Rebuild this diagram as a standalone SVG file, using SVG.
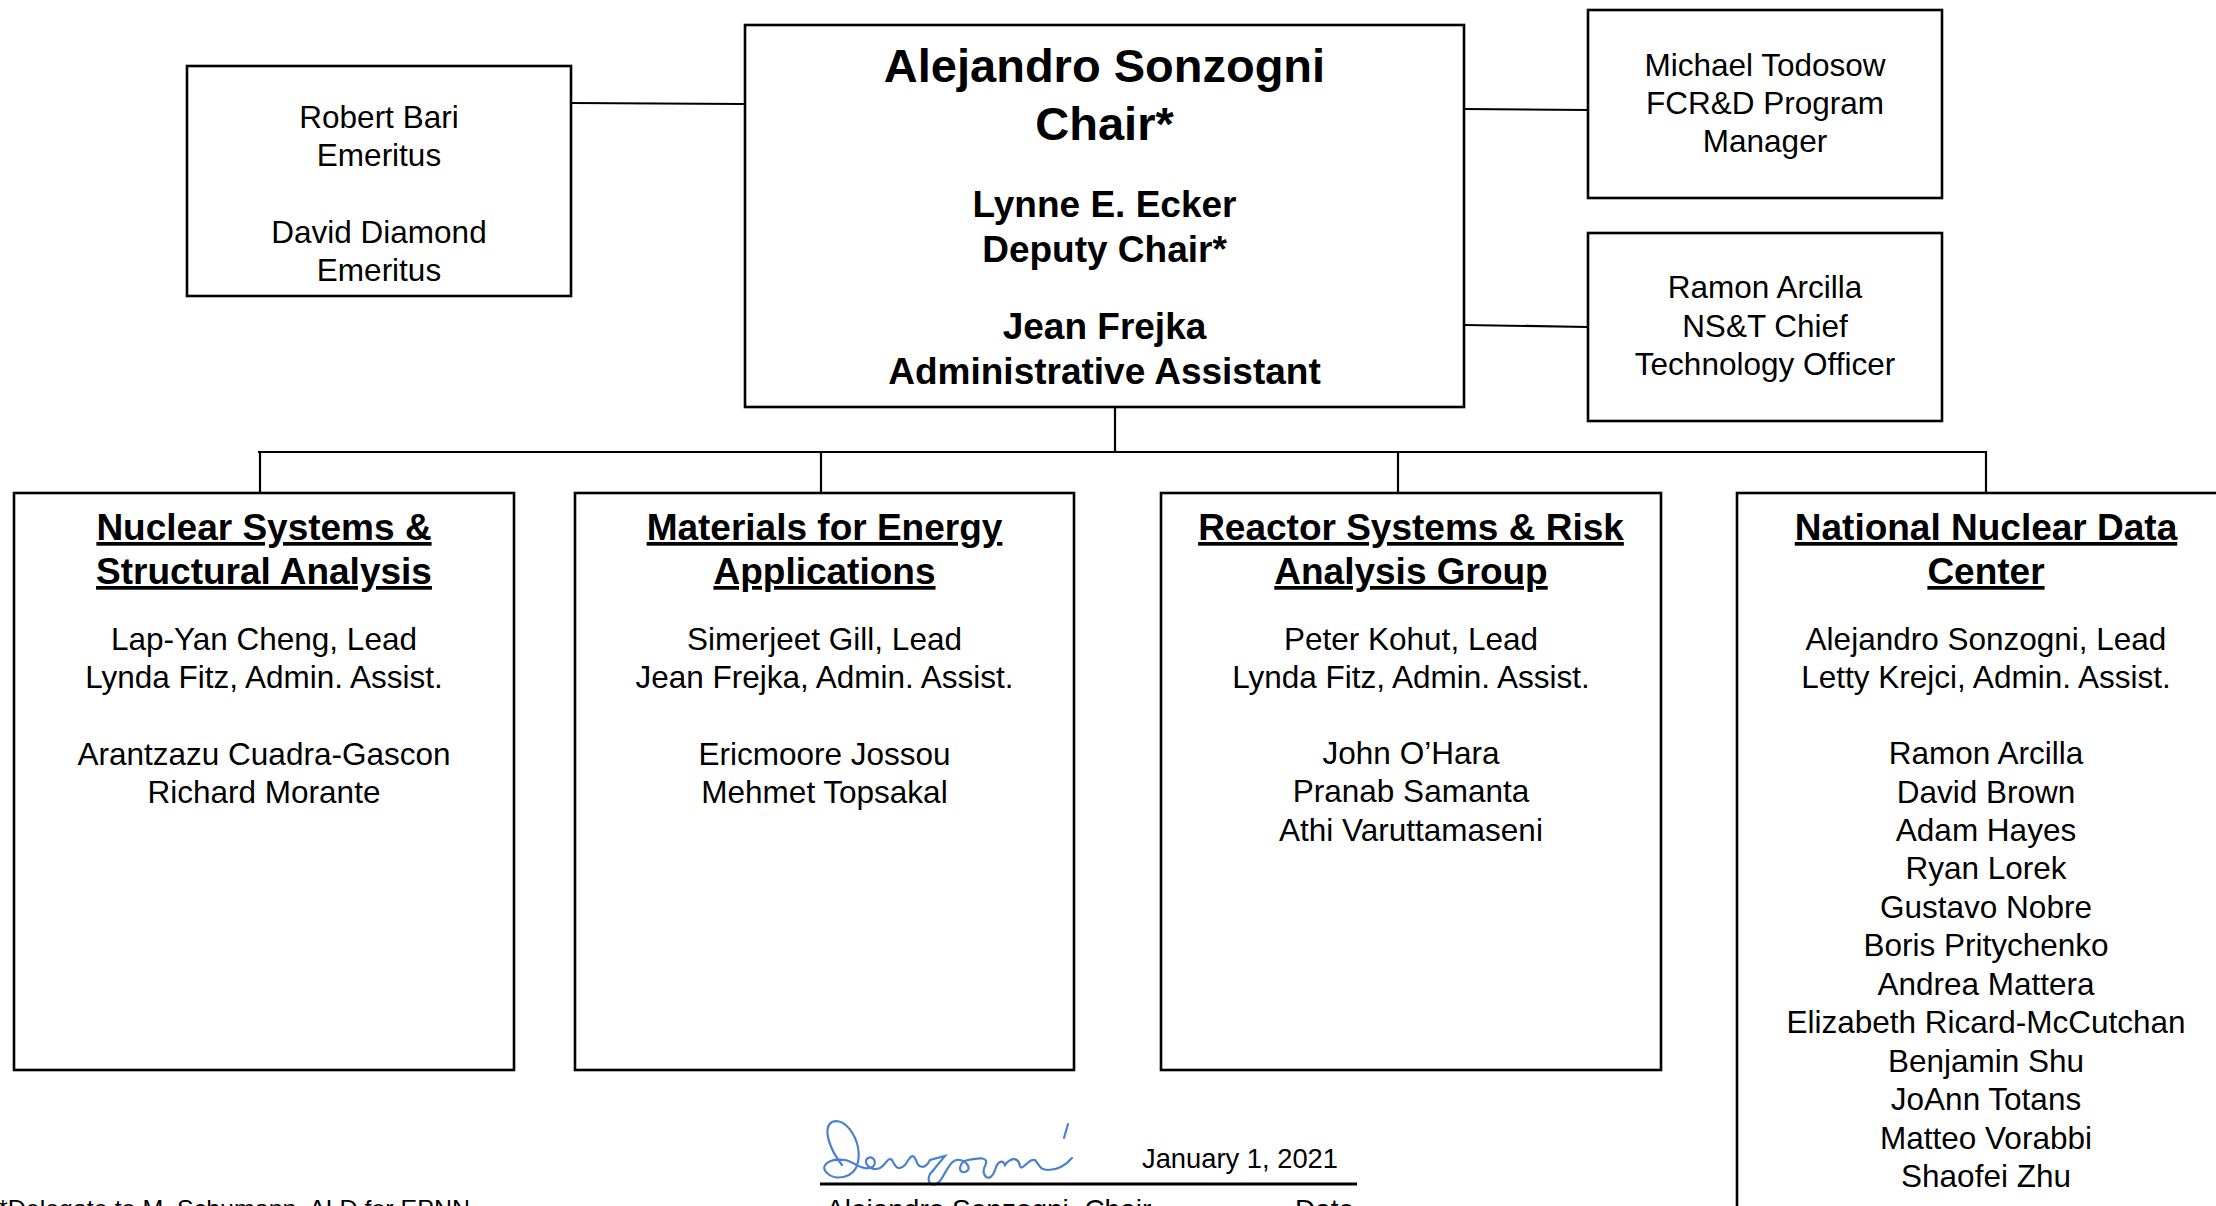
<svg xmlns="http://www.w3.org/2000/svg" width="2216" height="1206" viewBox="0 0 2216 1206">
<style>
.box{fill:#fff;stroke:#000;stroke-width:2.6}
.conn{stroke:#000;stroke-width:2.2;fill:none}
text{font-family:"Liberation Sans",Arial,sans-serif;fill:#000}
.t{font-size:31.5px;text-anchor:middle}
.big{font-size:47px;font-weight:bold;text-anchor:middle}
.mid{font-size:37px;font-weight:bold;text-anchor:middle}
.h{font-size:37px;font-weight:bold;text-anchor:middle;text-decoration:underline}
.foot{font-size:28px}
</style>
<rect width="2216" height="1206" fill="#fff"/>
<g id="connectors">
<line class="conn" x1="571" y1="103" x2="745" y2="104"/>
<line class="conn" x1="1464" y1="109" x2="1588" y2="110"/>
<line class="conn" x1="1464" y1="325" x2="1588" y2="327"/>
<line class="conn" x1="1115" y1="407" x2="1115" y2="452"/>
<line class="conn" x1="258" y1="452" x2="1987" y2="452"/>
<line class="conn" x1="260" y1="452" x2="260" y2="493"/>
<line class="conn" x1="821" y1="452" x2="821" y2="493"/>
<line class="conn" x1="1398" y1="452" x2="1398" y2="493"/>
<line class="conn" x1="1986" y1="452" x2="1986" y2="493"/>
</g>
<g id="emeritus">
<rect class="box" x="187" y="66" width="384" height="230"/>
<text class="t" x="379" y="128">Robert Bari</text>
<text class="t" x="379" y="166">Emeritus</text>
<text class="t" x="379" y="243">David Diamond</text>
<text class="t" x="379" y="281">Emeritus</text>
</g>
<g id="chair">
<rect class="box" x="745" y="25" width="719" height="382"/>
<text class="big" x="1104.5" y="82">Alejandro Sonzogni</text>
<text class="big" x="1104.5" y="140">Chair*</text>
<text class="mid" x="1104.5" y="217">Lynne E. Ecker</text>
<text class="mid" x="1104.5" y="262">Deputy Chair*</text>
<text class="mid" x="1104.5" y="339">Jean Frejka</text>
<text class="mid" x="1104.5" y="384">Administrative Assistant</text>
</g>
<g id="todosow">
<rect class="box" x="1588" y="10" width="354" height="188"/>
<text class="t" x="1765" y="76">Michael Todosow</text>
<text class="t" x="1765" y="114">FCR&amp;D Program</text>
<text class="t" x="1765" y="152">Manager</text>
</g>
<g id="arcilla">
<rect class="box" x="1588" y="233" width="354" height="188"/>
<text class="t" x="1765" y="298">Ramon Arcilla</text>
<text class="t" x="1765" y="337">NS&amp;T Chief</text>
<text class="t" x="1765" y="375">Technology Officer</text>
</g>
<g id="nssa">
<rect class="box" x="14" y="493" width="500" height="577"/>
<text class="h" x="264" y="540">Nuclear Systems &amp;</text>
<text class="h" x="264" y="584">Structural Analysis</text>
<text class="t" x="264" y="650">Lap-Yan Cheng, Lead</text>
<text class="t" x="264" y="688">Lynda Fitz, Admin. Assist.</text>
<text class="t" x="264" y="765">Arantzazu Cuadra-Gascon</text>
<text class="t" x="264" y="803">Richard Morante</text>
</g>
<g id="mea">
<rect class="box" x="575" y="493" width="499" height="577"/>
<text class="h" x="824.5" y="540">Materials for Energy</text>
<text class="h" x="824.5" y="584">Applications</text>
<text class="t" x="824.5" y="650">Simerjeet Gill, Lead</text>
<text class="t" x="824.5" y="688">Jean Frejka, Admin. Assist.</text>
<text class="t" x="824.5" y="765">Ericmoore Jossou</text>
<text class="t" x="824.5" y="803">Mehmet Topsakal</text>
</g>
<g id="rsra">
<rect class="box" x="1161" y="493" width="500" height="577"/>
<text class="h" x="1411" y="540">Reactor Systems &amp; Risk</text>
<text class="h" x="1411" y="584">Analysis Group</text>
<text class="t" x="1411" y="650">Peter Kohut, Lead</text>
<text class="t" x="1411" y="688">Lynda Fitz, Admin. Assist.</text>
<text class="t" x="1411" y="764">John O’Hara</text>
<text class="t" x="1411" y="802">Pranab Samanta</text>
<text class="t" x="1411" y="841">Athi Varuttamaseni</text>
</g>
<g id="nndc">
<rect class="box" x="1737" y="493" width="520" height="760"/>
<text class="h" x="1986" y="540">National Nuclear Data</text>
<text class="h" x="1986" y="584">Center</text>
<text class="t" x="1986" y="650">Alejandro Sonzogni, Lead</text>
<text class="t" x="1986" y="688">Letty Krejci, Admin. Assist.</text>
<text class="t" x="1986" y="764">Ramon Arcilla</text>
<text class="t" x="1986" y="802.5">David Brown</text>
<text class="t" x="1986" y="841">Adam Hayes</text>
<text class="t" x="1986" y="879">Ryan Lorek</text>
<text class="t" x="1986" y="918">Gustavo Nobre</text>
<text class="t" x="1986" y="956">Boris Pritychenko</text>
<text class="t" x="1986" y="995">Andrea Mattera</text>
<text class="t" x="1986" y="1033">Elizabeth Ricard-McCutchan</text>
<text class="t" x="1986" y="1072">Benjamin Shu</text>
<text class="t" x="1986" y="1110">JoAnn Totans</text>
<text class="t" x="1986" y="1149">Matteo Vorabbi</text>
<text class="t" x="1986" y="1187">Shaofei Zhu</text>
</g>
<g id="signature">
<path d="M842 1165 C830 1150,822 1128,832 1122 C845 1116,862 1140,858 1162 C855 1178,835 1182,826 1172 C820 1165,830 1158,845 1160 C855 1162,860 1170,870 1168 C878 1166,875 1155,868 1158 C862 1162,870 1172,880 1168 C886 1165,888 1156,892 1160 C895 1166,898 1172,905 1165 C910 1158,912 1152,916 1160 C918 1168,925 1170,930 1160 L945 1156 L930 1174 C925 1184,935 1190,942 1178 C948 1168,952 1158,960 1160 C968 1162,972 1170,965 1172 C958 1174,958 1162,968 1160 C978 1158,990 1156,985 1166 C980 1175,990 1185,995 1170 C998 1160,1003 1160,1005 1165 C1010 1158,1018 1156,1020 1166 C1022 1172,1028 1158,1035 1160 C1040 1166,1040 1170,1048 1170 C1058 1170,1066 1165,1072 1158" fill="none" stroke="#4a80d0" stroke-width="2.2" stroke-linecap="round"/>
<path d="M1068 1124 L1064 1138" fill="none" stroke="#4a80d0" stroke-width="2.2" stroke-linecap="round"/>
<line x1="820" y1="1184" x2="1357" y2="1184" stroke="#000" stroke-width="3"/>
<text class="foot" x="1142" y="1168" textLength="196" lengthAdjust="spacingAndGlyphs">January 1, 2021</text>
<text class="foot" x="826" y="1219">Alejandro Sonzogni, Chair</text>
<text class="foot" x="1295" y="1219">Date</text>
</g>
<g id="footnote">
<text x="-2" y="1217" font-size="24" textLength="472" lengthAdjust="spacingAndGlyphs">*Delegate to M. Schumann, ALD for EPNN</text>
</g>
</svg>
